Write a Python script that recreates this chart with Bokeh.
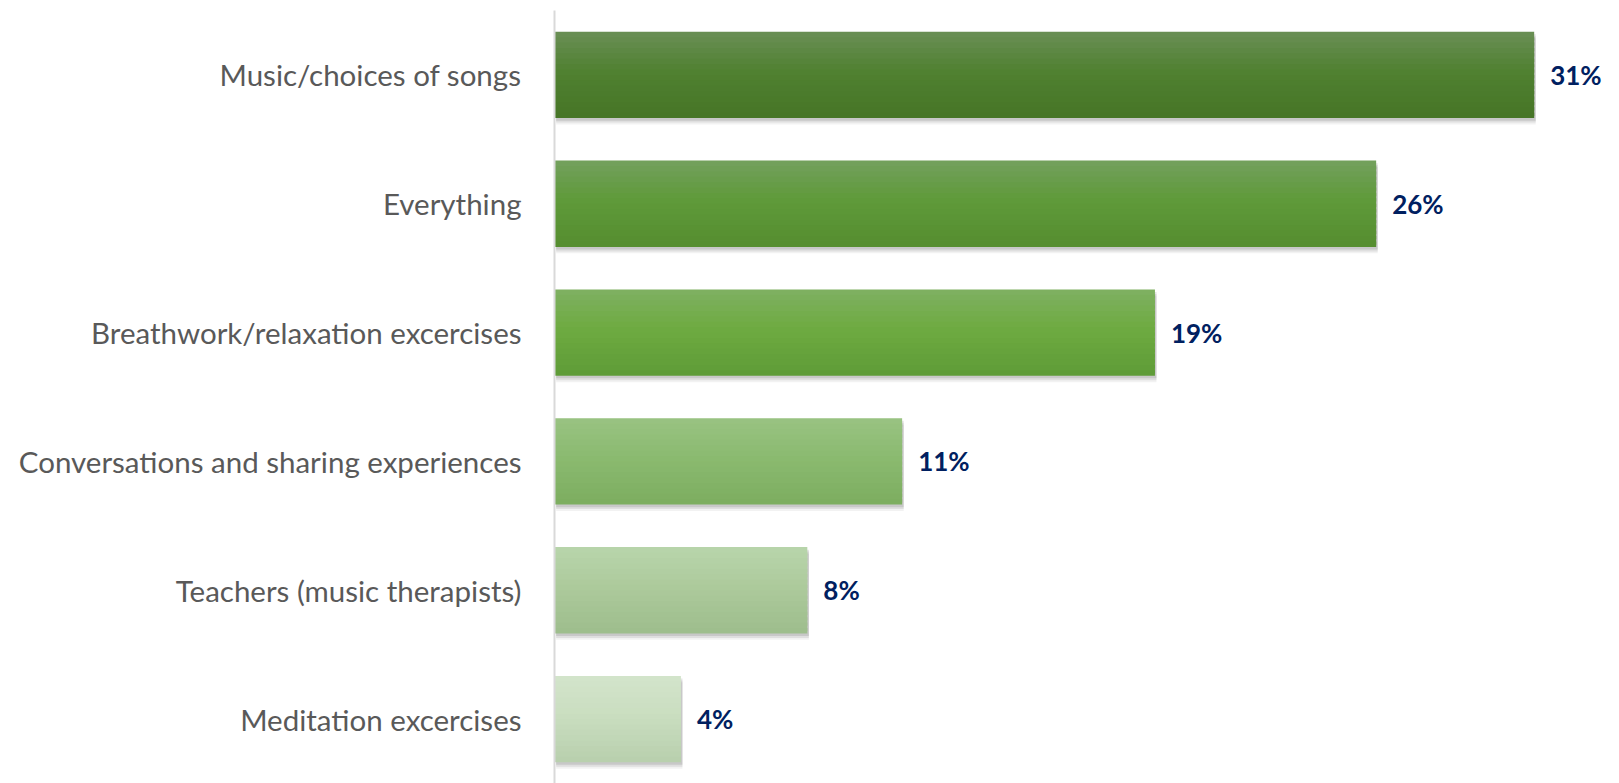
import numpy as np
from bokeh.plotting import figure
from bokeh.models import ColumnDataSource, FactorRange, Range1d, LabelSet
from bokeh.transform import dodge
from bokeh.core.properties import value
from bokeh.embed import file_html
from bokeh.resources import INLINE

categories = ["Music/choices of songs", "Everything", "Breathwork/relaxation excercises",
              "Conversations and sharing experiences", "Teachers (music therapists)",
              "Meditation excercises"]
values = [31, 26, 19, 11, 8, 4]
value_labels = ["31%", "26%", "19%", "11%", "8%", "4%"]

# gradient stops per bar: top, middle, bottom
top_colors = ["#6a8f56", "#73a05d", "#7fb062", "#99c382", "#b8d5ab", "#d3e4cb"]
mid_colors = ["#508131", "#5f9a3a", "#6eab41", "#8bba70", "#adca9c", "#cadec0"]
bot_colors = ["#467526", "#558d2f", "#5e9b37", "#7cad5f", "#9dbd8c", "#b8cfad"]

BAR_H = 0.67
N_STRIPS = 16


def hex2rgb(h):
    h = h.lstrip("#")
    return np.array([int(h[i:i + 2], 16) for i in (0, 2, 4)], dtype=float)


def rgb2hex(c):
    c = np.clip(np.round(c), 0, 255).astype(int)
    return "#%02x%02x%02x" % tuple(c)


def grad_color(i, t):
    # t: 0 at top, 1 at bottom
    a, m, b = hex2rgb(top_colors[i]), hex2rgb(mid_colors[i]), hex2rgb(bot_colors[i])
    if t < 0.45:
        s = t / 0.45
        return rgb2hex(a + (m - a) * s)
    s = (t - 0.45) / 0.55
    return rgb2hex(m + (b - m) * s)


source = ColumnDataSource(dict(cat=categories, val=values, lab=value_labels,
                               shadow_val=[v + 0.05 for v in values]))

p = figure(width=1619, height=783, output_backend="svg", toolbar_location=None,
           y_range=FactorRange(*categories[::-1]), x_range=Range1d(0, 33.7),
           x_axis_location=None, min_border_left=554, min_border_right=0,
           min_border_top=10, min_border_bottom=0)
p.y_range.range_padding = 0

# soft drop shadow (mostly below the bar)
for dy, alpha in [(-0.05, 0.05), (-0.035, 0.08), (-0.02, 0.10)]:
    p.hbar(y=dodge("cat", dy, range=p.y_range), left=0.05, right="shadow_val",
           height=BAR_H, source=source, fill_color="#000000", fill_alpha=alpha,
           line_color=None)

# gradient strips
strip_h = BAR_H / N_STRIPS
for k in range(N_STRIPS):
    t = (k + 0.5) / N_STRIPS
    offset = BAR_H / 2 - (k + 0.5) * strip_h
    cols = [grad_color(i, t) for i in range(len(categories))]
    src = ColumnDataSource(dict(cat=categories, val=values, col=cols))
    h = strip_h * (1.6 if k < N_STRIPS - 1 else 1.0)
    off = offset - (h - strip_h) / 2 if k < N_STRIPS - 1 else offset
    p.hbar(y=dodge("cat", off, range=p.y_range), left=0, right="val", height=h,
           source=src, fill_color="col", line_color=None)

labels = LabelSet(x="val", y="cat", text="lab", source=source, x_offset=16,
                  text_baseline="middle", text_align="left",
                  text_font=value("Lato"), text_font_style="bold",
                  text_font_size=value("26px"), text_color="#002060")
p.add_layout(labels)

p.yaxis.axis_line_color = "#d9d9d9"
p.yaxis.axis_line_width = 2
p.yaxis.major_tick_line_color = None
p.yaxis.minor_tick_line_color = None
p.yaxis.major_tick_out = 0
p.yaxis.major_tick_in = 0
p.yaxis.major_label_standoff = 33
p.yaxis.major_label_text_font = "Lato"
p.yaxis.major_label_text_font_size = "29.5px"
p.yaxis.major_label_text_color = "#595959"
p.ygrid.grid_line_color = None
p.xgrid.grid_line_color = None
p.outline_line_color = None
p.background_fill_color = "white"
p.border_fill_color = "white"

open("out.html", "w").write(file_html(p, INLINE))
